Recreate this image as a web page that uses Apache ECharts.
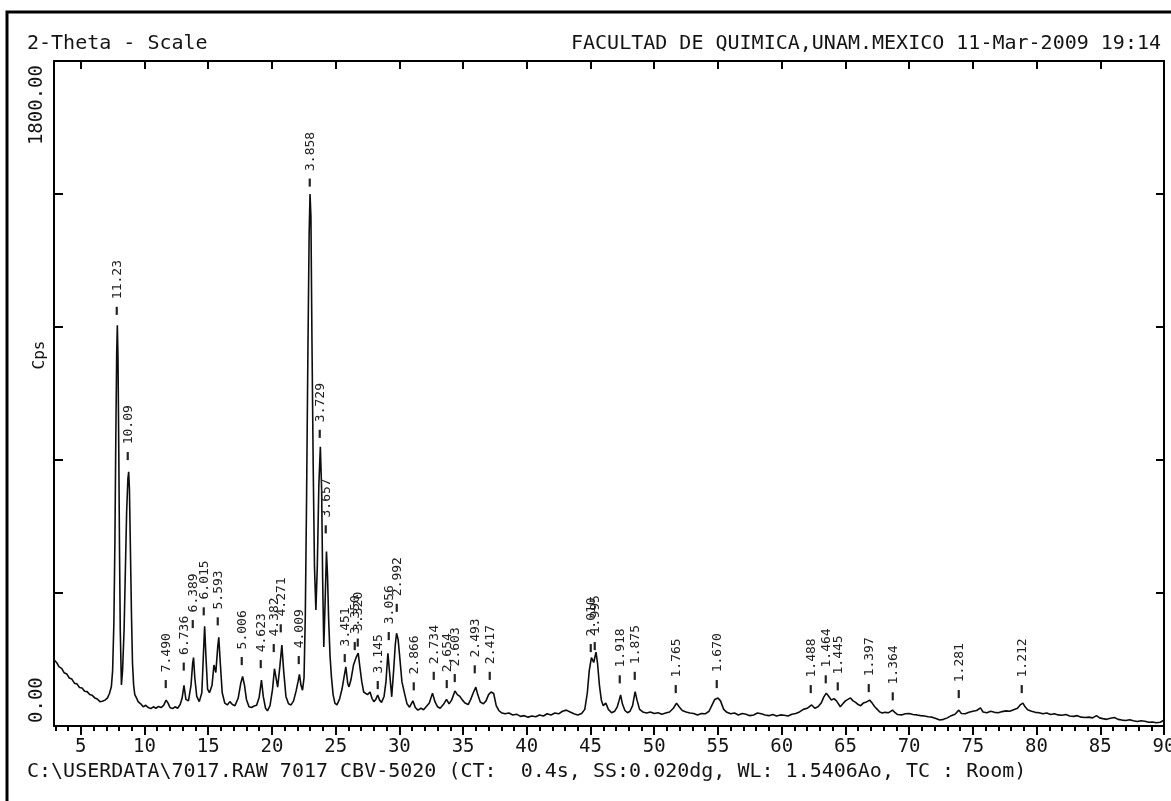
<!DOCTYPE html>
<html><head><meta charset="utf-8">
<script src="https://cdn.jsdelivr.net/npm/echarts@6/dist/echarts.min.js"></script>
<style>html,body{margin:0;padding:0;background:#fff}#c{width:1171px;height:801px}</style>
</head><body><div id="c"></div>
<script>
// ---- data ----
const twoTheta = [
 2.9,3.1,3.3,3.5,3.7,3.9,4.1,4.3,4.5,4.7,4.9,5.1,5.3,5.5,5.7,5.9,6.1,6.3,6.5,6.7,6.9,7.1,7.25,7.4,
 7.5,7.6,7.68,7.75,7.82,7.87,7.92,7.98,8.04,8.1,8.19,8.28,8.4,8.5,8.6,8.7,8.76,8.82,8.9,8.98,9.06,9.15,9.24,9.37,
 9.5,9.7,9.9,10.1,10.3,10.5,10.7,10.9,11.1,11.3,11.5,11.7,11.85,12.0,12.2,12.4,12.6,12.8,12.95,13.1,13.25,13.45,13.65,13.78,13.85,13.95,14.1,14.3,14.5,14.62,14.72,14.82,14.95,15.1,15.3,15.45,15.6,15.75,15.83,15.95,16.1,16.3,16.5,16.7,16.9,17.1,17.35,17.55,17.7,17.85,18.0,18.2,18.4,18.6,18.8,19.0,19.18,19.32,19.5,19.65,19.85,20.05,20.2,20.3,20.45,20.62,20.78,20.92,21.1,21.3,21.5,21.7,21.9,22.05,22.16,22.28,22.4,
 22.52,22.62,22.72,22.82,22.92,22.99,23.06,23.14,23.24,23.34,23.45,23.56,23.68,23.8,23.9,23.98,24.07,24.17,24.28,24.36,24.45,24.56,24.67,24.8,24.94,25.1,
 25.3,25.5,25.65,25.8,25.95,26.05,26.2,26.4,26.6,26.77,26.9,27.05,27.2,27.35,27.5,27.7,27.85,28.0,28.15,28.3,28.45,28.6,28.8,28.95,29.1,29.22,29.4,29.55,29.68,29.78,29.9,30.05,30.2,30.4,30.6,30.8,31.06,31.25,31.45,31.7,31.9,32.1,32.35,32.6,32.8,33.0,33.2,33.45,33.7,33.9,34.1,34.36,34.55,34.75,34.95,35.15,35.4,35.6,35.8,36.0,36.15,36.35,36.6,36.8,37.0,37.2,37.4,37.6,37.8,38.0,
 38.3,38.6,38.9,39.2,39.5,39.8,40.1,40.4,40.7,41.0,41.3,41.6,41.9,42.2,42.5,42.8,43.1,43.4,43.7,44.0,44.3,44.55,44.75,44.9,45.07,45.25,45.43,45.55,45.7,45.85,46.0,46.2,46.4,46.65,46.9,47.1,47.25,47.36,47.5,47.7,47.9,48.1,48.3,48.5,48.65,48.85,49.1,49.4,49.7,50.0,50.3,50.6,50.9,51.2,51.5,51.75,51.95,52.2,52.5,52.8,53.1,53.4,53.7,54.0,54.3,54.55,54.75,55.0,55.2,55.45,55.7,56.0,56.3,56.6,56.9,57.2,57.5,57.8,58.1,58.4,58.7,59.0,59.3,59.6,59.9,60.2,60.5,60.8,61.1,61.4,61.7,62.0,62.35,62.6,62.85,63.1,63.3,63.5,63.7,63.9,64.1,64.3,64.43,64.6,64.8,65.0,65.2,65.4,65.6,65.8,66.0,66.2,66.4,66.6,66.9,67.1,67.3,67.5,67.7,67.9,68.1,68.4,68.7,68.9,69.1,69.4,69.7,70.0,70.3,70.6,70.9,71.2,71.5,71.8,72.1,72.4,72.7,73.0,73.3,73.6,73.9,74.1,74.4,74.7,75.0,75.3,75.6,75.8,76.1,76.4,76.7,77.0,77.3,77.6,77.9,78.2,78.5,78.75,78.93,79.1,79.3,79.6,79.9,80.2,80.5,80.8,81.1,81.4,81.7,82.0,82.3,82.6,82.9,83.2,83.5,83.8,84.1,84.4,84.7,84.95,85.2,85.5,85.8,86.1,86.4,86.7,87.0,87.3,87.6,87.9,88.2,88.5,88.8,89.1,89.4,89.7,89.95
];
const cps = [
 179,172,160,156,144,141,130,127,116,114,104,103,94,93,85,83,76,73,66,67,70,76,88,106,
 150,280,500,780,1010,1085,1000,760,480,260,111,150,260,420,580,670,688,640,470,300,170,110,85,76,
 66,60,52,56,50,47,52,48,53,50,56,70,62,50,47,52,48,58,75,110,72,68,110,170,185,130,80,66,90,190,270,190,100,90,110,165,145,215,240,170,90,62,57,66,58,55,75,115,134,110,72,52,50,54,56,78,124,80,48,41,55,100,155,150,105,160,219,150,80,60,57,68,95,120,140,110,97,
 130,300,620,1000,1330,1440,1380,1050,700,430,314,430,650,756,640,400,214,330,472,410,290,190,133,85,62,57,
 72,100,130,160,115,106,125,165,185,197,160,120,92,95,85,92,75,66,72,84,70,64,80,120,197,150,79,150,220,251,235,179,120,89,60,51,68,50,43,48,44,52,62,89,65,52,48,58,72,60,70,95,85,80,70,62,58,72,90,105,85,65,60,68,85,92,88,55,42,36,
 33,35,30,32,26,28,24,27,25,30,27,33,30,35,33,40,43,38,33,30,34,45,90,150,185,172,200,170,110,70,55,62,45,36,40,52,70,84,60,42,36,40,55,93,70,45,38,35,38,34,36,32,35,38,48,62,52,42,38,35,34,30,34,33,40,58,72,76,68,45,37,33,35,30,34,32,28,30,35,33,30,28,31,27,30,29,27,32,34,38,45,48,57,48,52,62,78,89,80,70,74,68,66,52,60,68,72,76,68,64,58,55,62,64,70,62,52,45,38,35,37,36,43,36,31,30,33,34,31,30,28,27,25,24,20,16,18,22,28,32,43,34,33,37,40,42,49,38,36,40,37,36,39,41,40,44,48,58,62,52,44,40,37,36,33,35,31,33,30,29,31,27,26,28,24,23,24,22,28,22,20,18,21,23,18,16,15,17,14,12,14,13,10,11,9,10,15
];
// peak labels: position (2-theta), height of the label foot (cps), d-spacing text
const peakTheta = [7.87,8.76,11.76,13.13,13.85,14.72,15.83,17.70,19.18,20.25,20.78,22.16,23.04,23.84,24.32,25.80,26.59,26.83,28.36,29.20,29.84,31.18,32.73,33.75,34.43,36.00,37.17,45.07,45.43,47.36,48.51,51.75,54.94,62.35,63.49,64.43,66.92,68.76,73.93,78.93];
const peakLabelCps = [1113,720,103,150,265,300,273,165,157,200,254,168,1460,780,522,173,206,215,100,233,309,97,125,103,119,143,125,200,206,116,125,89,103,89,116,97,92,70,76,89];
const peakD = ['11.23','10.09','7.490','6.736','6.389','6.015','5.593','5.006','4.623','4.382','4.271','4.009','3.858','3.729','3.657','3.451','3.350','3.320','3.145','3.056','2.992','2.866','2.734','2.654','2.603','2.493','2.417','2.010','1.995','1.918','1.875','1.765','1.670','1.488','1.464','1.445','1.397','1.364','1.281','1.212'];
// axis ticks / labels
const xTickValues = [5,10,15,20,25,30,35,40,45,50,55,60,65,70,75,80,85,90];
const xTickLabels = ['5','10','15','20','25','30','35','40','45','50','55','60','65','70','75','80','85','90'];
const yLabelValues = [0, 1800];
const yLabelTexts = ['0.00', '1800.00'];
const headerLeft = '2-Theta - Scale';
const headerRight = 'FACULTAD DE QUIMICA,UNAM.MEXICO 11-Mar-2009 19:14';
const footer = 'C:\\USERDATA\\7017.RAW 7017 CBV-5020 (CT:  0.4s, SS:0.020dg, WL: 1.5406Ao, TC : Room)';
const yName = 'Cps';

// ---- chart ----
const XMIN = 2.9, XMAX = 90, YMIN = 0, YMAX = 1800;
const MONO = '"DejaVu Sans Mono", "Liberation Mono", monospace';
const INK = '#141414';
const minorTicks = [];
for (let v = 3; v <= 89; v++) if (v % 5 !== 0) minorTicks.push(v);

const chart = echarts.init(document.getElementById('c'), null, {renderer: 'canvas'});
const frameLine = {show: true, onZero: false, lineStyle: {color: '#000', width: 2}};
chart.setOption({
  animation: false,
  backgroundColor: '#fff',
  grid: {left: 54, right: 7, top: 61, bottom: 75, containLabel: false, outerBoundsMode: 'none'},
  xAxis: [
    {type: 'value', position: 'bottom', min: XMIN, max: XMAX,
     axisLine: frameLine,
     axisTick: {show: true, inside: false, length: 9, customValues: xTickValues, lineStyle: {color: '#000', width: 2}},
     axisLabel: {show: true, customValues: xTickValues, margin: 12, color: INK, fontFamily: MONO, fontSize: 19,
       formatter: v => xTickLabels[xTickValues.indexOf(v)]},
     splitLine: {show: false}},
    {type: 'value', position: 'bottom', min: XMIN, max: XMAX,
     axisLine: {show: false, onZero: false},
     axisTick: {show: true, inside: false, length: 5, customValues: minorTicks, lineStyle: {color: '#000', width: 2}},
     axisLabel: {show: false}, splitLine: {show: false}},
    {type: 'value', position: 'top', min: XMIN, max: XMAX,
     axisLine: frameLine,
     axisTick: {show: true, inside: true, length: 8, customValues: xTickValues, lineStyle: {color: '#000', width: 2}},
     axisLabel: {show: false}, splitLine: {show: false}}
  ],
  yAxis: [
    {type: 'value', position: 'left', min: YMIN, max: YMAX, interval: 360,
     axisLine: frameLine,
     axisTick: {show: true, inside: true, length: 9, lineStyle: {color: '#000', width: 2}},
     axisLabel: {show: true, customValues: [yLabelValues[0]], rotate: 90, align: 'left', padding: [0, 0, 0, 3],
       margin: 7, color: INK, fontFamily: MONO, fontSize: 19, formatter: () => yLabelTexts[0]},
     splitLine: {show: false}},
    {type: 'value', position: 'left', min: YMIN, max: YMAX,
     axisLine: {show: false, onZero: false}, axisTick: {show: false},
     axisLabel: {show: true, customValues: [yLabelValues[1]], rotate: 90, align: 'right', padding: [0, 4, 0, 0],
       margin: 7, color: INK, fontFamily: MONO, fontSize: 19, formatter: () => yLabelTexts[1]},
     splitLine: {show: false}},
    {type: 'value', position: 'right', min: YMIN, max: YMAX, interval: 360,
     axisLine: frameLine,
     axisTick: {show: true, inside: true, length: 8, lineStyle: {color: '#000', width: 2}},
     axisLabel: {show: false}, splitLine: {show: false}}
  ],
  series: [
    {type: 'line', xAxisIndex: 0, yAxisIndex: 0, symbol: 'none', showSymbol: false,
     data: twoTheta.map((t, i) => [t, cps[i]]),
     lineStyle: {color: '#0d0d0d', width: 1.6}, z: 3},
    {type: 'custom', coordinateSystem: 'cartesian2d', xAxisIndex: 0, yAxisIndex: 0, silent: true, clip: false, z: 4,
     data: peakTheta.map((t, i) => [t, peakLabelCps[i]]),
     renderItem: (params, api) => {
       const p = api.coord([api.value(0), api.value(1)]);
       return {type: 'text', x: p[0], y: p[1], rotation: Math.PI / 2,
         style: {text: '\u2501 ' + peakD[params.dataIndex], fill: '#222', fontFamily: MONO, fontSize: 13,
           align: 'left', verticalAlign: 'middle', textAlign: 'left', textVerticalAlign: 'middle'}};
     }}
  ],
  graphic: [
    {type: 'rect', shape: {x: 7, y: 12, width: 1200, height: 830}, style: {fill: 'none', stroke: '#000', lineWidth: 3}, silent: true},
    {type: 'text', x: 27, y: 44, style: {text: headerLeft, fill: INK, font: '20px ' + MONO, textVerticalAlign: 'middle', verticalAlign: 'middle'}},
    {type: 'text', x: 1161, y: 44, style: {text: headerRight, fill: INK, font: '20px ' + MONO, textAlign: 'right', align: 'right', textVerticalAlign: 'middle', verticalAlign: 'middle'}},
    {type: 'text', x: 27, y: 772, style: {text: footer, fill: INK, font: '20px ' + MONO, textVerticalAlign: 'middle', verticalAlign: 'middle'}},
    {type: 'text', x: 40, y: 355, rotation: Math.PI / 2, style: {text: yName, fill: INK, font: '16px ' + MONO, textAlign: 'center', align: 'center', textVerticalAlign: 'middle', verticalAlign: 'middle'}}
  ]
});
</script>
</body></html>
